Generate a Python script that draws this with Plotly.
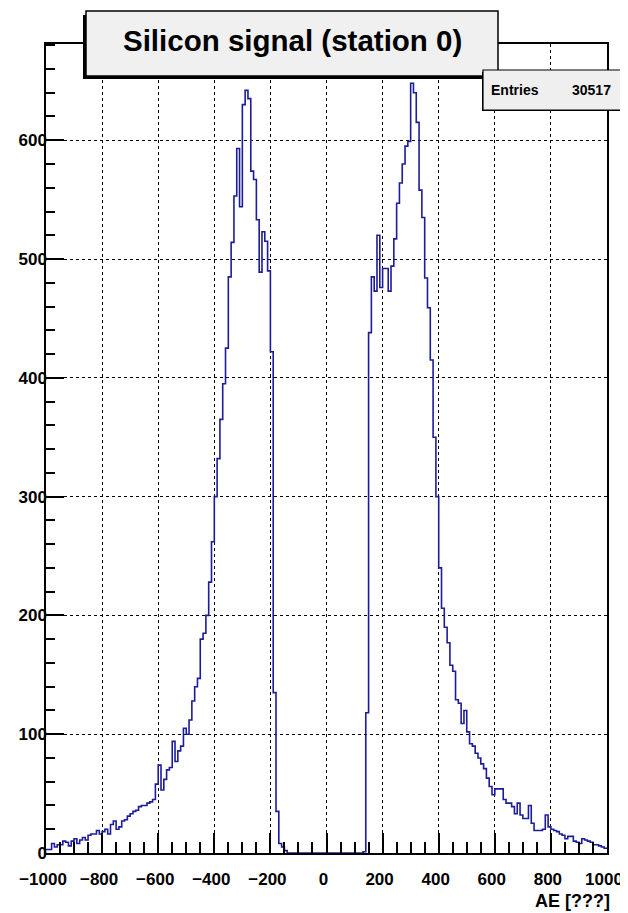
import numpy as np
import plotly.graph_objects as go

# ---------------- data ----------------
TITLE = "Silicon signal (station 0)"
X_TITLE = "AE [???]"
ENTRIES_LABEL = "Entries"
ENTRIES = 30517
BIN_LOW, BIN_HIGH, N_BINS = -1000, 1000, 200

# bin contents, 10-unit bins, left edges -1000 .. -610
left_tail = [3, 3, 8, 5, 7, 7, 10, 9, 6, 10,
             12, 8, 11, 13, 11, 15, 16, 16, 19, 16,
             18, 20, 16, 24, 27, 20, 22, 27, 28, 31,
             33, 35, 36, 39, 40, 40, 42, 43, 45, 58]
# left edges -600 .. -150
left_peak = [74, 53, 62, 70, 72, 94, 77, 86, 90, 105,
             100, 112, 128, 140, 147, 180, 185, 200, 228, 262,
             300, 332, 365, 395, 425, 485, 514, 553, 593, 544,
             630, 642, 635, 574, 567, 533, 489, 523, 515, 490,
             422, 135, 35, 8, 5, 2]
# left edges -140 .. 130
gap = [0, 0, 0, 0, 0, 0, 0, 0, 0, 0,
       0, 0, 0, 0, 0, 0, 0, 0, 0, 0,
       0, 0, 0, 0, 0, 0, 0, 1]
# left edges 140 .. 590
right_peak = [118, 438, 485, 473, 520, 476, 492, 492, 473, 494,
              517, 547, 564, 580, 595, 599, 648, 640, 615, 558,
              535, 484, 459, 415, 350, 300, 240, 206, 190, 177,
              158, 153, 129, 126, 109, 120, 102, 92, 90, 84,
              80, 75, 71, 63, 56, 49]
# left edges 600 .. 990
right_tail = [54, 54, 54, 45, 42, 42, 39, 33, 42, 32,
              29, 29, 40, 25, 19, 19, 19, 20, 32, 22,
              20, 19, 18, 16, 15, 12, 14, 14, 10, 9,
              8, 12, 11, 10, 9, 7, 7, 6, 5, 4]

x_tickvals = [-1000, -800, -600, -400, -200, 0, 200, 400, 600, 800, 1000]
y_tickvals = [0, 100, 200, 300, 400, 500, 600]

counts = left_tail + left_peak + gap + right_peak + right_tail
edges = np.linspace(BIN_LOW, BIN_HIGH, N_BINS + 1)

# ---------------- figure ----------------
FONT = "Liberation Sans, Arial, Helvetica, sans-serif"
LINE_BLUE = "#1c1c9a"
OFF = 8  # page body margin offset of the embedded figure

fig = go.Figure()
fig.add_trace(go.Scatter(
    x=list(edges),
    y=counts + [counts[-1]],
    mode="lines",
    line=dict(color=LINE_BLUE, width=1.6, shape="hv"),
    hoverinfo="skip",
))

axis_common = dict(
    ticks="inside", tickcolor="black", tickwidth=1.5,
    showline=True, linecolor="black", linewidth=1.5, mirror=True,
    showgrid=True, gridcolor="black", griddash="dot", gridwidth=1,
    zeroline=False, automargin=False,
    tickfont=dict(family=FONT, size=17, color="black", weight="bold"),
)

# target plot-area edges in window pixels
PL, PR, PT, PB = 46, 607, 44, 853
W, H = 628 - OFF, 913 - OFF

fig.update_layout(
    width=W, height=H,
    margin=dict(l=PL - OFF, r=W - (PR - OFF), t=PT - OFF, b=H - (PB - OFF),
                autoexpand=False),
    paper_bgcolor="white", plot_bgcolor="white",
    showlegend=False,
    font=dict(family=FONT, color="black"),
    xaxis=dict(range=[BIN_LOW, BIN_HIGH], tickvals=x_tickvals, ticklen=20,
               ticklabelstandoff=10, ticklabelshift=-3,
               minor=dict(tick0=BIN_LOW, dtick=50, ticks="inside", ticklen=11,
                          tickcolor="black", tickwidth=1.5, showgrid=False),
               **axis_common),
    yaxis=dict(range=[0, 681], tickvals=y_tickvals, ticklen=18,
               ticklabelstandoff=-6,
               minor=dict(tick0=0, dtick=20, ticks="inside", ticklen=9,
                          tickcolor="black", tickwidth=1.5, showgrid=False),
               **axis_common),
)

# helpers: window pixel -> paper coordinates
def px(x):
    return (x - PL) / (PR - PL)
def py(y):
    return (PB - y) / (PB - PT)

shapes = []
# title box with shadow
shapes.append(dict(type="rect", xref="paper", yref="paper",
                   x0=px(83), x1=px(494), y0=py(79), y1=py(15),
                   fillcolor="black", line=dict(width=0), layer="above"))
shapes.append(dict(type="rect", xref="paper", yref="paper",
                   x0=px(86), x1=px(498), y0=py(76), y1=py(11),
                   fillcolor="#f0f0f0", line=dict(color="black", width=1.5), layer="above"))
# stats box with shadow
shapes.append(dict(type="rect", xref="paper", yref="paper",
                   x0=px(482), x1=px(621), y0=py(111), y1=py(72),
                   fillcolor="black", line=dict(width=0), layer="above"))
shapes.append(dict(type="rect", xref="paper", yref="paper",
                   x0=px(483), x1=px(622), y0=py(110), y1=py(70),
                   fillcolor="#efefef", line=dict(color="black", width=1.2), layer="above"))
fig.update_layout(shapes=shapes)

fig.add_annotation(xref="paper", yref="paper", x=px(292), y=py(40),
                   text=TITLE, showarrow=False, xanchor="center", yanchor="middle",
                   font=dict(family=FONT, size=29.5, color="black", weight="bold"))
fig.add_annotation(xref="paper", yref="paper", x=px(489), y=py(90),
                   text=ENTRIES_LABEL, showarrow=False, xanchor="left", yanchor="middle",
                   font=dict(family=FONT, size=14, color="black", weight="bold"))
fig.add_annotation(xref="paper", yref="paper", x=px(613), y=py(90),
                   text=str(ENTRIES), showarrow=False, xanchor="right", yanchor="middle",
                   font=dict(family=FONT, size=14, color="black", weight="bold"))
fig.add_annotation(xref="paper", yref="paper", x=px(612), y=py(901),
                   text=X_TITLE, showarrow=False, xanchor="right", yanchor="middle",
                   font=dict(family=FONT, size=18, color="black", weight="bold"))

fig.write_html("out.html")
